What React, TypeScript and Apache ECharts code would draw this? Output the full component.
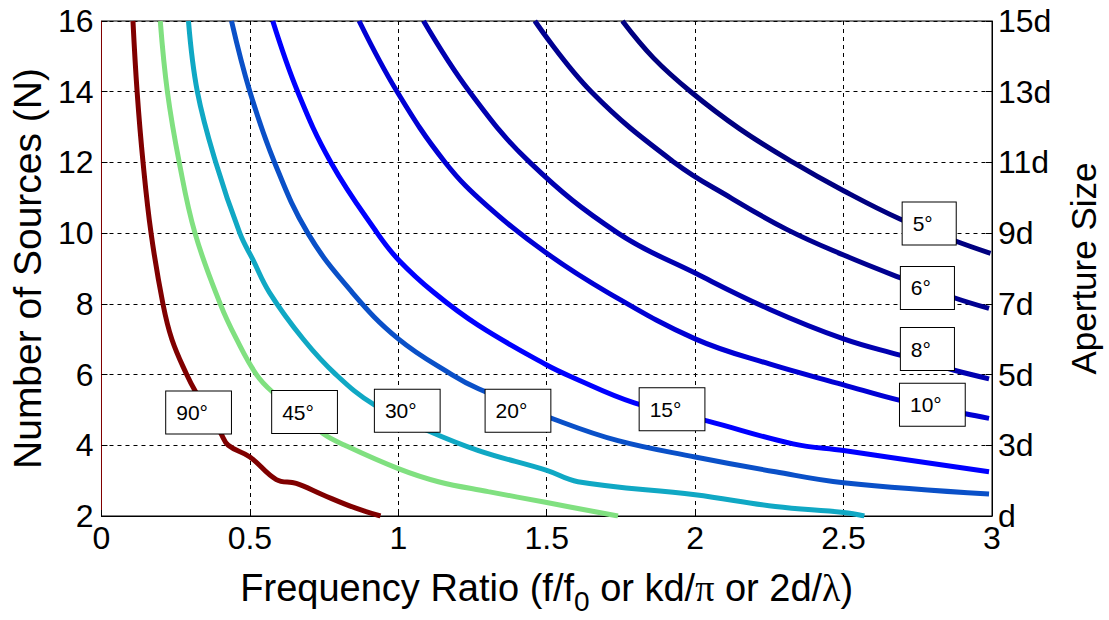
import React, { useEffect, useRef } from "react";
import * as echarts from "echarts";

// Curves: [frequency ratio, number of sources]
const curve90: [number, number][] = [[0.106,16],[0.12,14],[0.14,12],[0.167,10],[0.207,8],[0.237,7],[0.287,6],[0.318,5.5],[0.402,4.34],[0.427,4.0],[0.5,3.67],[0.589,3.03],[0.656,2.92],[0.745,2.6],[0.857,2.22],[0.94,2.0]];
const curve45: [number, number][] = [[0.198,16],[0.222,14],[0.262,12],[0.315,10],[0.4,8],[0.455,7],[0.522,6],[0.577,5.5],[0.745,4.34],[0.82,4.0],[1.0,3.34],[1.135,2.97],[1.303,2.69],[1.5,2.38],[1.74,2.0]];
const curve30: [number, number][] = [[0.293,16],[0.323,14],[0.385,12],[0.466,10],[0.51,9.25],[0.566,8.32],[0.68,7],[0.79,6],[0.918,5.15],[1.1,4.41],[1.27,3.85],[1.5,3.29],[1.605,2.97],[2.0,2.6],[2.27,2.27],[2.5,2.1],[2.57,2.0]];
const curve20: [number, number][] = [[0.438,16],[0.5,14],[0.583,12],[0.695,10],[0.845,8.32],[1.0,7.01],[1.18,6],[1.27,5.6],[1.527,4.73],[1.74,4.13],[2.0,3.67],[2.27,3.25],[2.5,2.94],[2.99,2.62]];
const curve15: [number, number][] = [[0.577,16],[0.661,14],[0.773,12],[0.929,10],[1.0,9.25],[1.12,8.32],[1.27,7.39],[1.5,6.27],[1.582,5.94],[1.795,5.2],[2.04,4.69],[2.33,4.04],[2.5,3.85],[2.99,3.25]];
const curve10: [number, number][] = [[0.868,16],[0.996,14],[1.158,12],[1.303,10.74],[1.5,9.43],[1.706,8.32],[2.0,7.01],[2.25,6.3],[2.5,5.71],[2.69,5.27],[2.91,4.89],[2.99,4.76]];
const curve8: [number, number][] = [[1.085,16],[1.24,14],[1.443,12.0],[1.74,10.0],[2.0,8.87],[2.25,7.85],[2.5,7.01],[2.69,6.55],[2.87,6.13],[2.99,5.88]];
const curve6: [number, number][] = [[1.46,16],[1.65,14.0],[1.93,12.0],[2.12,11.0],[2.31,10.1],[2.5,9.38],[2.69,8.74],[2.87,8.18],[2.99,7.87]];
const curve5: [number, number][] = [[1.755,16],[1.86,14.95],[1.985,14],[2.15,12.95],[2.33,12.0],[2.5,11.2],[2.69,10.4],[2.87,9.8],[2.995,9.43]];

const curveNames = ["90°", "45°", "30°", "20°", "15°", "10°", "8°", "6°", "5°"];
const curves = [curve90, curve45, curve30, curve20, curve15, curve10, curve8, curve6, curve5];
const curveColors = ["#800000", "#80e080", "#10a8c4", "#0a50c8", "#0000ff", "#0000d4", "#0000b0", "#000090", "#000080"];

// Label boxes: [x, y, text] (left edge, vertical centre)
const labelAnchors: [number, number, string][] = [
  [0.218, 4.93, "90°"],
  [0.575, 4.94, "45°"],
  [0.921, 4.98, "30°"],
  [1.294, 4.98, "20°"],
  [1.813, 5.02, "15°"],
  [2.69, 5.15, "10°"],
  [2.693, 6.72, "8°"],
  [2.693, 8.45, "6°"],
  [2.699, 10.27, "5°"],
];

const rightTickLabels = ["d", "3d", "5d", "7d", "9d", "11d", "13d", "15d"];

const FONT = "Liberation Sans";

export default function App() {
  const ref = useRef<HTMLDivElement>(null);
  useEffect(() => {
    if (!ref.current) return;
    const chart = echarts.init(ref.current, undefined, { renderer: "svg" });
    const lineSeries = curves.map((c, i) => ({
      type: "line",
      name: curveNames[i],
      data: c,
      showSymbol: false,
      smooth: 0.4,
      lineStyle: { color: curveColors[i], width: 5 },
      itemStyle: { color: curveColors[i] },
      z: 3,
    }));
    chart.setOption({
      animation: false,
      backgroundColor: "#fff",
      grid: { left: 101, right: 113, top: 21, bottom: 97, show: true, borderColor: "#000", borderWidth: 1 },
      xAxis: {
        type: "value",
        min: 0,
        max: 3,
        interval: 0.5,
        name: "Frequency Ratio (f/f{sub|0} or kd/{g|π} or 2d/{g|λ})",
        nameLocation: "middle",
        nameGap: 45,
        nameTextStyle: {
          fontSize: 38,
          color: "#000",
          fontFamily: FONT,
          rich: {
            sub: { fontSize: 28, fontFamily: FONT, color: "#000", padding: [26, 0, 0, 0] },
            g: { fontSize: 38, fontFamily: "Liberation Serif", color: "#000" },
          },
        },
        axisLine: { lineStyle: { color: "#000", width: 1 } },
        axisTick: { inside: true, length: 6, lineStyle: { color: "#000" } },
        axisLabel: { fontSize: 32, color: "#000", fontFamily: FONT, margin: 6 },
        splitLine: { show: true, lineStyle: { color: "#000", type: [4, 4], width: 1 } },
      },
      yAxis: [
        {
          type: "value",
          min: 2,
          max: 16,
          interval: 2,
          name: "Number of Sources (N)",
          nameLocation: "middle",
          nameRotate: 90,
          nameGap: 53,
          nameTextStyle: { fontSize: 39, color: "#000", fontFamily: FONT },
          axisLine: { show: true, lineStyle: { color: "#800000", width: 1 } },
          axisTick: { inside: true, length: 6, lineStyle: { color: "#000" } },
          axisLabel: { fontSize: 32, color: "#000", fontFamily: FONT, margin: 8 },
          splitLine: { show: true, lineStyle: { color: "#000", type: [4, 4], width: 1 } },
        },
        {
          type: "value",
          min: 2,
          max: 16,
          interval: 2,
          position: "right",
          name: "Aperture Size",
          nameLocation: "middle",
          nameRotate: 90,
          nameGap: 74,
          nameTextStyle: { fontSize: 35, color: "#000", fontFamily: FONT },
          axisLine: { show: true, lineStyle: { color: "#000", width: 1 } },
          axisTick: { inside: true, length: 6, lineStyle: { color: "#000" } },
          axisLabel: {
            fontSize: 32,
            color: "#000",
            fontFamily: FONT,
            margin: 6,
            formatter: (v: number) => rightTickLabels[Math.round((v - 2) / 2)] ?? "",
          },
          splitLine: { show: false },
        },
      ],
      series: [
        ...lineSeries,
        {
          type: "custom",
          data: labelAnchors.map((a) => [a[0], a[1]]),
          z: 10,
          silent: true,
          renderItem: (params: any, api: any) => {
            const p = api.coord([api.value(0), api.value(1)]);
            return {
              type: "text",
              x: p[0],
              y: p[1],
              z2: 100,
              style: {
                text: labelAnchors[params.dataIndex][2],
                fontSize: 21,
                lineHeight: 22,
                fontFamily: FONT,
                fill: "#000",
                align: "left",
                verticalAlign: "middle",
                backgroundColor: "#fff",
                borderColor: "#000",
                borderWidth: 1,
                padding: [10, 23, 10, 10],
              },
            };
          },
        },
      ],
    });
    return () => chart.dispose();
  }, []);
  return <div ref={ref} style={{ position: "absolute", left: 0, top: 0, width: 1109, height: 620 }} />;
}
